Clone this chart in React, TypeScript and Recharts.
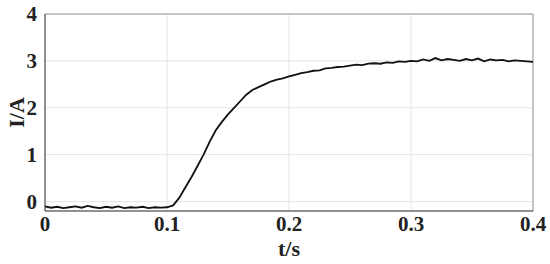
import React from "react";
import {
  LineChart,
  Line,
  XAxis,
  YAxis,
  CartesianGrid,
  ReferenceLine,
} from "recharts";

// time samples (s)
const times = [
  0, 0.005, 0.01, 0.015, 0.02, 0.025, 0.03, 0.035, 0.04, 0.045,
  0.05, 0.055, 0.06, 0.065, 0.07, 0.075, 0.08, 0.085, 0.09, 0.095,
  0.1, 0.105, 0.11, 0.115, 0.12, 0.125, 0.13, 0.135, 0.14, 0.145,
  0.15, 0.155, 0.16, 0.165, 0.17, 0.175, 0.18, 0.185, 0.19, 0.195,
  0.2, 0.205, 0.21, 0.215, 0.22, 0.225, 0.23, 0.235, 0.24, 0.245,
  0.25, 0.255, 0.26, 0.265, 0.27, 0.275, 0.28, 0.285, 0.29, 0.295,
  0.3, 0.305, 0.31, 0.315, 0.32, 0.325, 0.33, 0.335, 0.34, 0.345,
  0.35, 0.355, 0.36, 0.365, 0.37, 0.375, 0.38, 0.385, 0.39, 0.395,
  0.4,
];

// current (A)
const current = [
  -0.1, -0.13, -0.11, -0.14, -0.12, -0.1, -0.13, -0.09, -0.12, -0.14,
  -0.11, -0.13, -0.1, -0.14, -0.12, -0.13, -0.11, -0.14, -0.12, -0.13,
  -0.12, -0.08, 0.08, 0.3, 0.52, 0.76, 1.0, 1.28, 1.52, 1.7,
  1.86, 2.0, 2.14, 2.28, 2.38, 2.44, 2.5, 2.56, 2.6, 2.63,
  2.67, 2.7, 2.74, 2.76, 2.79, 2.8, 2.84, 2.85, 2.87, 2.88,
  2.9, 2.92, 2.91, 2.94, 2.95, 2.94, 2.97, 2.96, 2.99, 2.98,
  3.0, 2.99, 3.03, 3.0, 3.06, 3.01, 3.04, 3.02, 3.0, 3.04,
  3.01, 3.05, 2.99, 3.03, 3.01, 3.02, 2.99, 3.01, 3.0, 2.99,
  2.98,
];

const xTicks = [0, 0.1, 0.2, 0.3, 0.4];
const yTicks = [0, 1, 2, 3, 4];

const data = times.map((t, i) => ({ t, i: current[i] }));

const font = "'Liberation Serif', 'Times New Roman', serif";
const tickStyle = { fontSize: 21, fontWeight: 700, fill: "#222", fontFamily: font };

export default function App() {
  return (
    <div style={{ position: "absolute", left: 0, top: 0, background: "#fff" }}>
      <LineChart
        width={550}
        height={264}
        data={data}
        margin={{ top: 14, right: 17, left: 0, bottom: 0 }}
      >
        <CartesianGrid stroke="#e4e4e4" strokeWidth={1} />
        <XAxis
          dataKey="t"
          type="number"
          domain={[0, 0.4]}
          ticks={xTicks}
          tickFormatter={(v) => String(v)}
          tick={tickStyle}
          tickLine={false}
          tickSize={3}
          tickMargin={2}
          axisLine={{ stroke: "#333", strokeWidth: 1 }}
          height={53}
          label={{
            value: "t/s",
            position: "insideBottom",
            offset: 8,
            style: { ...tickStyle, fontSize: 22 },
          }}
        />
        <YAxis
          type="number"
          domain={[-0.2, 4]}
          ticks={yTicks}
          tick={tickStyle}
          tickLine={false}
          axisLine={{ stroke: "#333", strokeWidth: 1 }}
          width={45}
          label={{
            value: "I/A",
            angle: -90,
            position: "insideLeft",
            offset: 16,
            style: { ...tickStyle, fontSize: 22, textAnchor: "middle" },
          }}
        />
        <ReferenceLine y={4} stroke="#999" />
        <ReferenceLine x={0.4} stroke="#999" />
        <Line
          type="linear"
          dataKey="i"
          stroke="#111"
          strokeWidth={1.8}
          dot={false}
          isAnimationActive={false}
        />
      </LineChart>
    </div>
  );
}
